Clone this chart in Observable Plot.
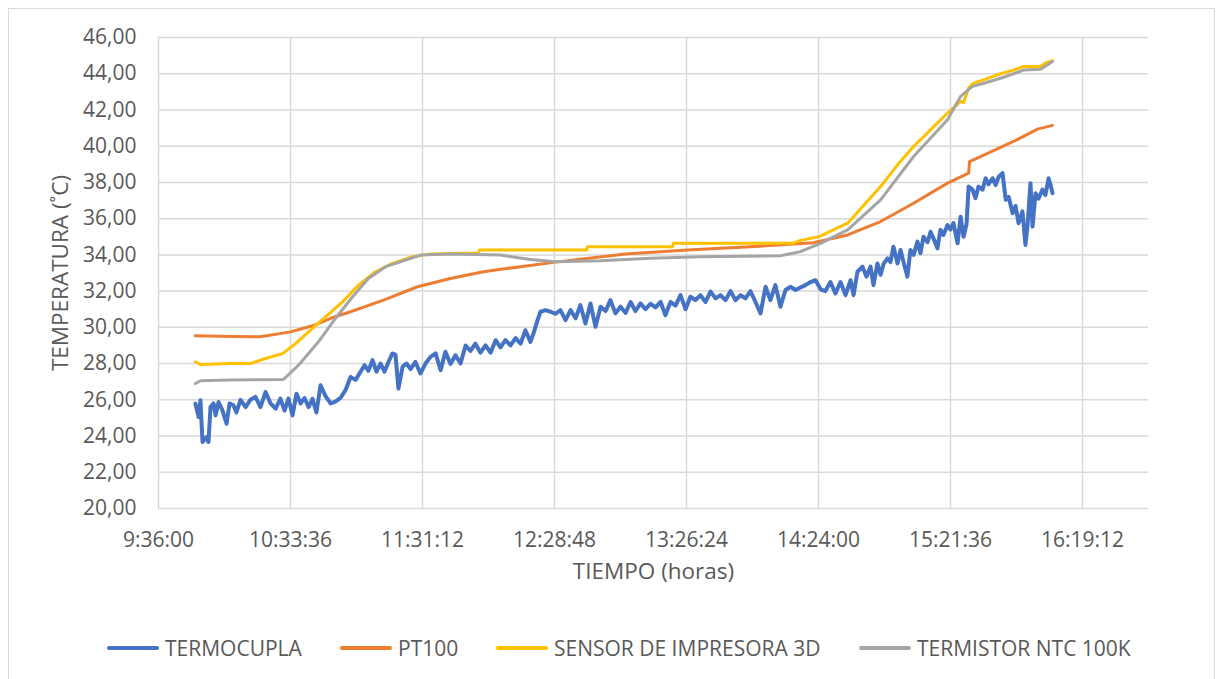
<!DOCTYPE html>
<html>
<head>
<meta charset="utf-8">
<script src="https://cdn.jsdelivr.net/npm/d3@7"></script>
<script src="https://cdn.jsdelivr.net/npm/@observablehq/plot@0.6"></script>
<style>
  html, body { margin: 0; padding: 0; background: #fff; }
  body { width: 1223px; height: 679px; position: relative; overflow: hidden; font-family: "Open Sans", sans-serif; }
  #frame { position: absolute; left: 8px; top: 8px; width: 1207px; height: 720px; border: 1px solid #d9d9d9; box-sizing: border-box; }
  #chart { position: absolute; left: 0; top: 0; }
  .item { position: absolute; top: 634px; height: 28px; display: flex; align-items: center; color: #595959; font-size: 21px; white-space: nowrap; }
  .sw { width: 52px; height: 4px; border-radius: 2px; margin-right: 6px; }
</style>
</head>
<body>
<div id="frame"></div>
<div id="chart"></div>
<div id="legend"></div>
<script>
// ---- Data (time = minutes after midnight, temperature in °C) ----
const seriesNames = ["TERMOCUPLA", "PT100", "SENSOR DE IMPRESORA 3D", "TERMISTOR NTC 100K"];
const seriesColors = ["#4472C4", "#ED7D31", "#FFC000", "#A5A5A5"];

const xTickLabels = ["9:36:00", "10:33:36", "11:31:12", "12:28:48", "13:26:24", "14:24:00", "15:21:36", "16:19:12"];
const yTicks = [20, 22, 24, 26, 28, 30, 32, 34, 36, 38, 40, 42, 44, 46];
const xDomainLabels = ["9:36:00", "16:48:00"];

const termocupla = [
[592.1,25.79],[593.5,25.05],[594.3,25.97],[595.2,23.67],[596.9,23.94],[597.8,23.67],[598.7,25.6],[600.0,25.8],[600.9,25.14],[602.2,25.88],
[603.9,25.42],[605.7,24.68],[607.0,25.8],[608.7,25.7],[610.0,25.3],[611.8,26.0],[614.0,25.6],[616.1,26.0],[618.3,26.16],[620.5,25.6],
[622.7,26.43],[624.9,25.8],[627.1,25.51],[629.2,26.07],[631.0,25.4],[632.7,26.07],[634.5,25.14],[636.2,26.34],[638.0,25.8],[639.7,26.1],
[641.5,25.6],[643.2,26.05],[644.9,25.3],[646.7,26.8],[648.9,26.2],[651.1,25.8],[653.2,25.9],[655.4,26.1],[657.6,26.53],[659.8,27.26],
[662.0,27.1],[664.1,27.54],[665.9,27.91],[667.6,27.6],[669.4,28.19],[671.1,27.55],[672.9,28.0],[674.6,27.55],[676.4,28.1],[678.1,28.56],
[679.4,28.5],[680.7,26.62],[682.5,27.82],[684.2,28.0],[686.0,27.7],[688.1,28.09],[690.3,27.45],[692.5,28.0],[694.7,28.37],[696.9,28.56],
[699.1,27.63],[701.2,28.65],[703.4,27.98],[705.6,28.46],[707.8,28.0],[710.0,29.0],[712.1,28.7],[714.3,29.1],[716.5,28.6],[718.7,29.0],
[720.9,28.6],[723.1,29.29],[725.2,28.9],[727.4,29.3],[729.6,29.0],[731.8,29.4],[734.0,29.1],[736.1,29.84],[738.3,29.2],[739.6,29.65],
[741.4,30.4],[742.7,30.86],[744.9,30.95],[747.1,30.86],[749.2,30.75],[751.4,30.95],[753.6,30.4],[755.8,30.95],[758.0,30.5],[760.1,31.23],
[762.3,30.21],[764.5,31.32],[766.7,30.03],[768.9,31.14],[771.1,30.9],[773.2,31.5],[775.4,30.77],[777.6,31.14],[779.8,30.8],[782.0,31.4],
[784.1,30.9],[786.3,31.32],[788.5,31.0],[790.7,31.3],[792.9,31.1],[795.1,31.41],[797.2,30.67],[799.4,31.4],[801.6,31.2],[803.8,31.78],
[806.0,31.0],[808.1,31.69],[810.3,31.5],[812.5,31.78],[814.7,31.4],[816.9,31.97],[819.1,31.6],[821.2,31.78],[823.4,31.5],[825.6,32.0],
[827.8,31.5],[830.0,31.78],[832.1,31.6],[834.3,32.0],[836.5,31.4],[838.7,30.77],[840.9,32.24],[843.0,31.5],[845.2,32.33],[847.4,31.14],
[849.6,32.06],[851.8,32.24],[854.0,32.06],[856.1,32.2],[858.3,32.33],[860.5,32.5],[862.7,32.6],[864.9,32.1],[867.0,32.0],[869.2,32.5],
[871.4,31.87],[873.6,32.5],[875.8,31.78],[878.0,32.6],[879.3,31.78],[881.0,33.07],[883.2,33.35],[884.9,32.8],[886.7,33.35],[888.0,32.33],
[889.7,33.53],[891.1,32.9],[892.4,33.5],[894.1,33.81],[895.4,33.6],[896.7,34.45],[898.5,33.53],[899.8,34.27],[901.1,33.6],[902.8,32.8],
[904.1,34.27],[905.5,34.0],[907.2,34.73],[908.5,34.09],[909.8,35.0],[911.6,34.7],[912.9,35.28],[914.2,34.9],[915.9,34.36],[917.2,35.38],
[918.5,35.1],[920.3,35.65],[921.6,35.4],[922.9,35.75],[924.7,34.64],[926.0,36.11],[927.3,35.0],[928.6,35.7],[929.5,37.77],[931.2,37.6],
[932.5,37.13],[933.8,37.77],[935.6,37.6],[936.9,38.23],[938.2,37.9],[940.0,38.23],[941.3,37.86],[942.6,38.3],[944.3,38.51],[945.7,37.04],
[947.0,37.2],[948.7,36.3],[950.0,36.7],[951.3,35.75],[953.0,36.4],[954.3,34.55],[955.2,35.6],[956.5,37.96],[957.4,35.56],[958.7,37.4],
[960.0,37.1],[961.7,37.6],[963.0,37.3],[964.4,38.23],[965.2,37.9],[966.1,37.4]
];

const pt100 = [
[592.1,29.53],[607.4,29.5],[620.5,29.48],[633.6,29.75],[643.6,30.1],[651.1,30.5],[659.8,30.86],[674.2,31.5],[689.0,32.24],[703.4,32.7],
[717.8,33.07],[734.0,33.35],[749.2,33.6],[779.8,34.05],[806.8,34.27],[834.3,34.45],[861.8,34.67],[876.7,35.1],[891.1,35.84],[905.5,36.85],
[920.3,37.96],[929.5,38.51],[929.9,39.15],[934.7,39.43],[949.1,40.26],[959.6,40.94],[966.1,41.15]
];

const sensorImpresora = [
[592.1,28.09],[594.3,27.95],[607.4,28.0],[616.1,28.0],[622.7,28.28],[630.1,28.55],[635.8,29.1],[641.5,29.75],[648.9,30.58],[656.3,31.4],
[663.3,32.33],[670.7,33.07],[678.1,33.53],[686.8,33.9],[694.7,34.05],[715.6,34.1],[716.1,34.27],[762.8,34.27],[763.2,34.45],[800.3,34.45],
[800.7,34.64],[852.7,34.64],[856.1,34.8],[864.0,35.0],[876.7,35.75],[891.1,37.77],[898.5,38.97],[905.5,39.98],[912.9,40.9],[920.3,41.83],
[926.0,42.47],[927.3,42.4],[929.5,43.21],[931.2,43.45],[936.9,43.7],[943.4,44.0],[949.1,44.2],[953.5,44.4],[960.9,44.4],[963.1,44.6],[966.1,44.72]
];

const termistor = [
[592.1,26.9],[594.3,27.05],[607.4,27.1],[630.5,27.12],[637.1,27.91],[645.8,29.2],[653.2,30.49],[660.7,31.69],[667.6,32.7],[675.1,33.35],
[682.5,33.66],[690.3,33.99],[703.4,34.05],[725.2,33.99],[738.3,33.75],[749.2,33.62],[768.9,33.68],[790.7,33.82],[812.5,33.9],[847.4,33.95],
[856.1,34.18],[864.9,34.64],[876.7,35.38],[891.1,37.04],[905.5,39.43],[920.3,41.46],[926.0,42.75],[929.5,43.12],[931.2,43.3],[936.9,43.5],
[943.4,43.75],[949.1,44.0],[953.5,44.2],[960.9,44.25],[966.1,44.67]
];

// ---- Build chart ----
const toMin = s => { const [h, m, sec] = s.split(":").map(Number); return h * 60 + m + sec / 60; };
const fmtTime = v => { const t = Math.round(v * 60); const h = Math.floor(t / 3600); const m = Math.floor((t % 3600) / 60); const s = t % 60; return `${h}:${String(m).padStart(2, "0")}:${String(s).padStart(2, "0")}`; };
const xTickValues = xTickLabels.map(toMin);
const allSeries = [termocupla, pt100, sensorImpresora, termistor];
const rows = allSeries.flatMap((arr, i) => arr.map(([t, v]) => ({t, v, s: seriesNames[i]})));
const widths = [4, 3, 3, 3];

const chart = Plot.plot({
  width: 1223,
  height: 600,
  marginLeft: 158,
  marginRight: 75,
  marginTop: 37,
  marginBottom: 92,
  style: {fontFamily: "'Open Sans', sans-serif", fontSize: "21px", color: "#595959", background: "transparent", overflow: "visible"},
  x: {domain: xDomainLabels.map(toMin), type: "linear"},
  y: {domain: [yTicks[0], yTicks[yTicks.length - 1]]},
  color: {domain: seriesNames, range: seriesColors},
  marks: [
    Plot.ruleY(yTicks, {stroke: "#d9d9d9", strokeWidth: 1.5}),
    Plot.ruleX(xTickValues, {stroke: "#d9d9d9", strokeWidth: 1.5}),
    Plot.axisY({ticks: yTicks, tickSize: 0, tickPadding: 22, tickFormat: d => d.toFixed(2).replace(".", ","), label: null}),
    Plot.axisX({ticks: xTickValues, tickSize: 0, tickPadding: 24, tickFormat: fmtTime, label: null}),
    Plot.text(["TIEMPO (horas)"], {text: d => d, frameAnchor: "bottom", dy: 70, fontSize: 22.5, fill: "#595959", textAnchor: "middle"}),
    Plot.text(["TEMPERATURA (˚C)"], {text: d => d, frameAnchor: "left", dx: -98, rotate: -90, fontSize: 22.5, fill: "#595959", textAnchor: "middle"}),
    ...seriesNames.map((name, i) =>
      Plot.line(rows.filter(d => d.s === name), {x: "t", y: "v", stroke: "s", strokeWidth: widths[i], strokeLinejoin: "round", strokeLinecap: "round"})
    )
  ]
});
document.getElementById("chart").appendChild(chart);

// ---- Legend ----
const legendLefts = [107, 340, 496, 859];
const legend = document.getElementById("legend");
seriesNames.forEach((name, i) => {
  const item = document.createElement("div");
  item.className = "item";
  item.style.left = legendLefts[i] + "px";
  const sw = document.createElement("span");
  sw.className = "sw";
  sw.style.background = seriesColors[i];
  const label = document.createElement("span");
  label.textContent = name;
  item.appendChild(sw);
  item.appendChild(label);
  legend.appendChild(item);
});
</script>
</body>
</html>
